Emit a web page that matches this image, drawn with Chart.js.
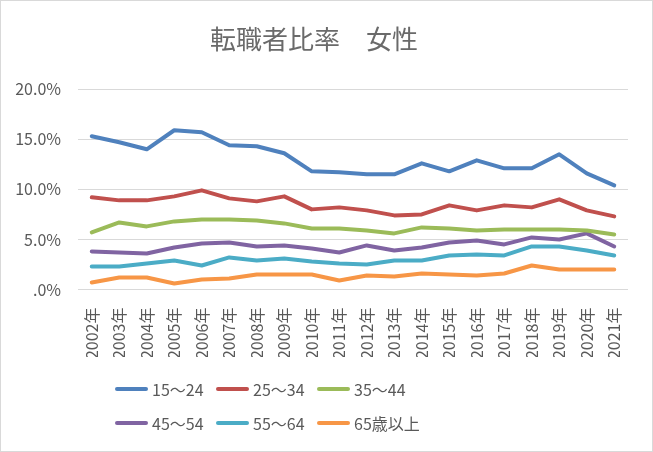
<!DOCTYPE html>
<html>
<head>
<meta charset="utf-8">
<script src="https://cdn.jsdelivr.net/npm/chart.js@4"></script>
<style>
    body { margin: 0; background: #fff; }
    #wrap { position: relative; width: 653px; height: 452px; }
    #frame { position: absolute; left: 0; top: 0; width: 653px; height: 452px; box-sizing: border-box; border: 1px solid #d9d9d9; pointer-events: none; }
    #legend { position: absolute; left: 115px; top: 376px; width: 330px; display: grid; grid-template-columns: 101px 101px 120px; row-gap: 8px; font-family: 'Noto Sans CJK JP', sans-serif; font-size: 16px; color: #595959; }
    .item { display: flex; align-items: center; height: 26px; white-space: nowrap; }
    .swatch { width: 33px; height: 4px; border-radius: 2px; margin-right: 4px; }
</style>
</head>
<body>
<div id="wrap">
    <canvas id="myChart" width="653" height="452"></canvas>
    <div id="legend"></div>
    <div id="frame"></div>
</div>
<script>
const years = ["2002年", "2003年", "2004年", "2005年", "2006年", "2007年", "2008年", "2009年", "2010年", "2011年",
    "2012年", "2013年", "2014年", "2015年", "2016年", "2017年", "2018年", "2019年", "2020年", "2021年"];

// 転職者比率（%）
const age15to24 = [15.3, 14.7, 14.0, 15.9, 15.7, 14.4, 14.3, 13.6, 11.8, 11.7, 11.5, 11.5, 12.6, 11.8, 12.9, 12.1, 12.1, 13.5, 11.6, 10.4];
const age25to34 = [9.2, 8.9, 8.9, 9.3, 9.9, 9.1, 8.8, 9.3, 8.0, 8.2, 7.9, 7.4, 7.5, 8.4, 7.9, 8.4, 8.2, 9.0, 7.9, 7.3];
const age35to44 = [5.7, 6.7, 6.3, 6.8, 7.0, 7.0, 6.9, 6.6, 6.1, 6.1, 5.9, 5.6, 6.2, 6.1, 5.9, 6.0, 6.0, 6.0, 5.9, 5.5];
const age45to54 = [3.8, 3.7, 3.6, 4.2, 4.6, 4.7, 4.3, 4.4, 4.1, 3.7, 4.4, 3.9, 4.2, 4.7, 4.9, 4.5, 5.2, 5.0, 5.6, 4.3];
const age55to64 = [2.3, 2.3, 2.6, 2.9, 2.4, 3.2, 2.9, 3.1, 2.8, 2.6, 2.5, 2.9, 2.9, 3.4, 3.5, 3.4, 4.3, 4.3, 3.9, 3.4];
const age65plus = [0.7, 1.2, 1.2, 0.6, 1.0, 1.1, 1.5, 1.5, 1.5, 0.9, 1.4, 1.3, 1.6, 1.5, 1.4, 1.6, 2.4, 2.0, 2.0, 2.0];

const seriesNames = ["15～24", "25～34", "35～44", "45～54", "55～64", "65歳以上"];
const seriesData = [age15to24, age25to34, age35to44, age45to54, age55to64, age65plus];
const colors = ["#4F81BD", "#C0504D", "#9BBB59", "#8064A2", "#4BACC6", "#F79646"];

const font = "'Noto Sans CJK JP', sans-serif";
const textColor = "#595959";

const datasets = seriesNames.map((name, i) => ({
    label: name,
    data: seriesData[i],
    borderColor: colors[i],
    backgroundColor: colors[i],
    borderWidth: 4,
    pointRadius: 0,
    tension: 0,
    borderCapStyle: "round",
    borderJoinStyle: "round"
}));

const ctx = document.getElementById("myChart").getContext("2d");
const myChart = new Chart(ctx, {
    type: "line",
    data: { labels: years, datasets: datasets },
    options: {
        responsive: false,
        animation: false,
        layout: { padding: { left: 0, right: 25, top: 0, bottom: 95 } },
        plugins: {
            legend: { display: false },
            tooltip: { enabled: false },
            title: {
                display: true,
                text: "転職者比率　女性",
                color: "#6a6a6a",
                font: { family: font, size: 26, weight: "normal", lineHeight: 1.2 },
                padding: { top: 24, bottom: 34 }
            }
        },
        scales: {
            x: {
                offset: true,
                grid: { display: false, drawTicks: false },
                border: { display: false },
                ticks: {
                    autoSkip: false,
                    minRotation: 90,
                    maxRotation: 90,
                    padding: 18,
                    color: textColor,
                    font: { family: font, size: 16 }
                },
                afterFit: (scale) => { scale.height = 67.5; }
            },
            y: {
                min: 0,
                max: 20,
                grid: { color: "#d9d9d9", lineWidth: 1, drawTicks: false },
                border: { display: false },
                ticks: {
                    stepSize: 5,
                    padding: 17,
                    color: textColor,
                    font: { family: font, size: 16 },
                    callback: (v) => v === 0 ? ".0%" : v.toFixed(1) + "%"
                },
                afterFit: (scale) => { scale.width = 78; }
            }
        }
    }
});

// 凡例（3列×2行）
const legend = document.getElementById("legend");
seriesNames.forEach((name, i) => {
    const item = document.createElement("div");
    item.className = "item";
    item.innerHTML = `<span class="swatch" style="background:${colors[i]}"></span><span>${name}</span>`;
    legend.appendChild(item);
});
</script>
</body>
</html>
